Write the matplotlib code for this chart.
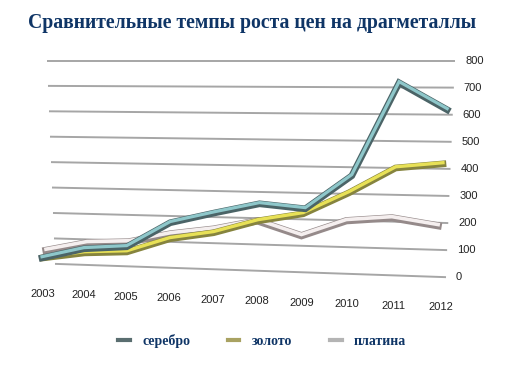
import numpy as np
import matplotlib
matplotlib.use("Agg")
import matplotlib.pyplot as plt
from matplotlib.transforms import Transform, Affine2D
from matplotlib.lines import Line2D

# ---- data ----
years = ['2003', '2004', '2005', '2006', '2007', '2008', '2009', '2010', '2011', '2012']
silver = [25, 66, 79, 177, 219, 258, 243, 371, 720, 621]
gold = [25, 50, 59, 115, 143, 193, 224, 307, 403, 421]
platinum = [55, 90, 98, 134, 157, 193, 141, 202, 217, 192]
y_ticks = [0, 100, 200, 300, 400, 500, 600, 700, 800]
series_names = ['серебро', 'золото', 'платина']

W, H = 505, 373
fig = plt.figure(figsize=(W / 100, H / 100), dpi=100)
ax = fig.add_axes([0, 0, 1, 1])
ax.set_xlim(0, W)
ax.set_ylim(H, 0)
ax.axis('off')

TOP = 60.5
VMAX = 800.0


def scale_at(X):
    return 0.254 + (X - 50.0) / 400.0 * 0.017


class SeriesPersp(Transform):
    """(year index, value) -> perspective canvas coordinates."""
    input_dims = output_dims = 2
    is_separable = False

    def __init__(self, a, b, c):
        super().__init__()
        self.a, self.b, self.c = a, b, c

    def transform_non_affine(self, values):
        values = np.asarray(values, float)
        i, v = values[:, 0], values[:, 1]
        X = self.a + self.b * i + self.c * i ** 2
        Y = TOP + (VMAX - v) * scale_at(X)
        return np.column_stack([X, Y])


class GridPersp(Transform):
    """(fraction along line, value) -> back-wall canvas coordinates."""
    input_dims = output_dims = 2
    is_separable = False

    def transform_non_affine(self, values):
        values = np.asarray(values, float)
        t, v = values[:, 0], values[:, 1]
        L = 47 + (VMAX - v) / VMAX * 8
        R = 455 - (VMAX - v) / VMAX * 9
        X = L + t * (R - L)
        Y = TOP + (VMAX - v) * scale_at(X)
        return np.column_stack([X, Y])


grid_tr = GridPersp()
for v in y_ticks:
    ax.plot([0, 1], [v, v], color='#a6a6a6', lw=1.4,
            transform=grid_tr + ax.transData, zorder=1, solid_capstyle='butt')
    gx, gy = grid_tr.transform([[1, v]])[0]
    ax.text(gx + 10, gy, str(v), ha='left', va='center', fontsize=8,
            family='Liberation Sans', color='#222222')

# x tick labels along the slanted floor edge
for k, lab in enumerate(years):
    lx = 43 + 40.8 * k + 0.38 * k ** 2
    ly = 294 + 1.44 * k
    ax.text(lx, ly, lab, ha='center', va='center', fontsize=8,
            family='Liberation Sans', color='#222222')

idx = np.arange(len(years))
styles = [
    # values, transform coeffs, dark edge, light face, widths, zorder
    (platinum, (46, 40.6, 0.33), '#958a8a', '#f5efef', (5.2, 2.6), 3),
    (gold, (43, 41.2, 0.36), '#86843e', '#e8e157', (4.8, 2.4), 4),
    (silver, (42, 41.6, 0.38), '#4b6467', '#8ec7ca', (4.8, 2.3), 5),
]
for vals, coef, dark, light, (wd, wl), z in styles:
    tr = SeriesPersp(*coef)
    ax.plot(idx, vals, color=dark, lw=wd, solid_joinstyle='miter',
            transform=tr + Affine2D().translate(0, 0.8) + ax.transData, zorder=z)
    ax.plot(idx, vals, color=light, lw=wl, solid_joinstyle='miter',
            transform=tr + Affine2D().translate(0, -0.4) + ax.transData, zorder=z)

# title
fig.text(0.5, 1 - 23 / H, 'Сравнительные темпы роста цен на драгметаллы',
         ha='center', va='center', fontsize=14.2, fontweight='bold',
         family='Liberation Serif', color='#0f3566')

handles = [Line2D([], [], color='#5a6e70', lw=3),
           Line2D([], [], color='#a9a262', lw=3),
           Line2D([], [], color='#b4b4b4', lw=3)]
leg = fig.legend(handles, series_names, loc='center', ncol=3,
                 bbox_to_anchor=(262 / W, 1 - 341 / H), frameon=False,
                 prop={'family': 'Liberation Serif', 'weight': 'bold', 'size': 10},
                 handlelength=0.85, handletextpad=0.9, columnspacing=2.7,
                 labelcolor='#0f3566')

fig.savefig('out.png', dpi=100, facecolor='white')
